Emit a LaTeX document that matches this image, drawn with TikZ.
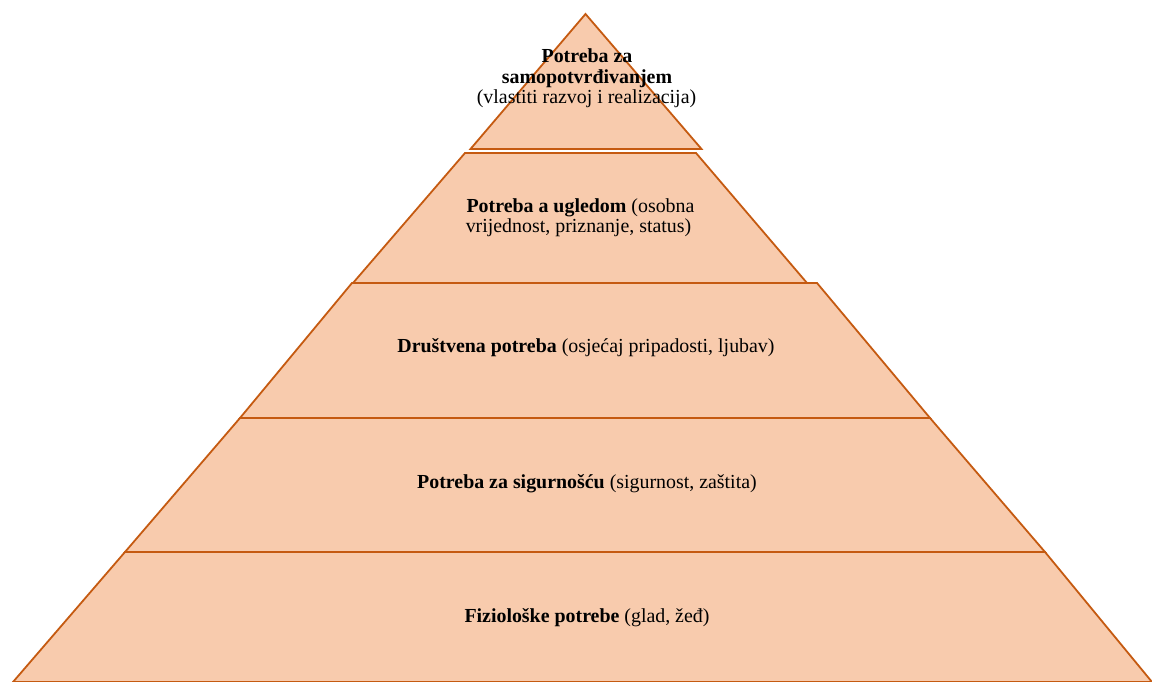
\documentclass[tikz,border=0pt]{standalone}
\usepackage{fontspec}
\setmainfont{Liberation Serif}
\definecolor{layerfill}{HTML}{F8CBAD}
\definecolor{layerline}{HTML}{C55A11}
\begin{document}
\begin{tikzpicture}[x=1pt,y=-1pt,
  layer/.style={fill=layerfill,draw=layerline,line width=1.8pt,line join=miter},
  lbl/.style={anchor=base,inner sep=0pt,font=\fontsize{19.9}{21}\selectfont,text=black}]
\useasboundingbox (0,0) rectangle (1152,682);
% layers (bottom first)
\draw[layer] (125,552) -- (1045,552) -- (1152,682) -- (13,682) -- cycle;
\draw[layer] (240,418) -- (930,418) -- (1045,552) -- (125,552) -- cycle;
\draw[layer] (352,283) -- (817,283) -- (930,418) -- (240,418) -- cycle;
\draw[layer] (465,153) -- (696,153) -- (807,283) -- (353,283) -- cycle;
\draw[layer] (585.5,14) -- (701.5,149) -- (470.5,149) -- cycle;
% texts
\node[lbl] (t1a) at (587,63) {\textbf{Potreba za}};
\node[lbl] (t1b) at (587,84) {\textbf{samopotvrđivanjem}};
\node[lbl] (t1c) at (586.5,104) {(vlastiti razvoj i realizacija)};
\node[lbl] (t2a) at (580.5,212) {\textbf{Potreba a ugledom} (osobna};
\node[lbl] (t2b) at (578.5,233) {vrijednost, priznanje, status)};
\node[lbl] (t3) at (586,352) {\textbf{Društvena potreba} (osjećaj pripadosti, ljubav)};
\node[lbl] (t4) at (587,488) {\textbf{Potreba za sigurnošću} (sigurnost, zaštita)};
\node[lbl] (t5) at (587,622) {\textbf{Fiziološke potrebe} (glad, žeđ)};
\end{tikzpicture}
\end{document}
